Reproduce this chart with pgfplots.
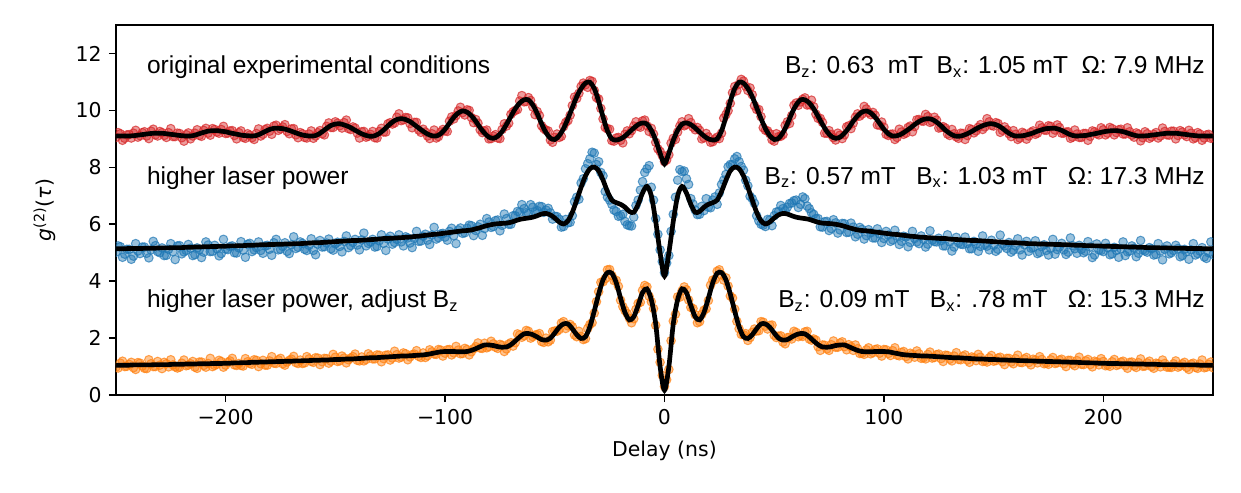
\documentclass[border=0pt]{standalone}
\usepackage{fontspec}
\setmainfont{Liberation Sans}
\newfontfamily\dejavu{DejaVu Sans}
\usepackage{pgfplots}
\usepackage{pgfplotstable}
\pgfplotsset{compat=1.18}
\definecolor{tabred}{HTML}{D62728}
\definecolor{tabblue}{HTML}{1F77B4}
\definecolor{taborange}{HTML}{FF7F0E}
\pgfplotstableread{
x rf rs bf bs of os
-250 9.1 9.05 5.14 5.02 1.05 0.98
-248 9.1 9.18 5.14 5.21 1.05 1.12
-246 9.1 9.02 5.14 4.95 1.05 1.0
-244 9.1 9.15 5.15 5.12 1.05 1.08
-242 9.11 9.2 5.15 4.88 1.06 0.96
-240 9.13 9.06 5.15 5.06 1.06 1.14
-238 9.15 9.22 5.15 5.2 1.06 1.02
-236 9.17 9.1 5.16 4.98 1.06 0.93
-234 9.19 9.27 5.16 5.1 1.06 1.1
-232 9.2 9.14 5.16 5.25 1.07 1.0
-230 9.2 9.26 5.17 5.0 1.07 1.05
-228 9.19 9.12 5.17 4.9 1.07 1.15
-226 9.17 9.22 5.17 5.12 1.07 0.99
-224 9.15 9.08 5.18 5.04 1.08 1.06
-222 9.13 9.2 5.18 5.24 1.08 0.95
-220 9.11 9.04 5.18 4.96 1.08 1.12
-218 9.1 9.15 5.19 5.08 1.09 1.03
-216 9.1 9.0 5.19 5.16 1.09 1.1
-214 9.13 9.2 5.2 4.93 1.09 0.98
-212 9.18 9.12 5.2 5.11 1.1 1.16
-210 9.23 9.3 5.21 5.02 1.1 1.04
-208 9.27 9.2 5.21 5.27 1.1 1.11
-206 9.29 9.36 5.22 5.05 1.11 1.0
-204 9.29 9.24 5.22 5.14 1.11 1.08
-202 9.27 9.33 5.23 4.97 1.11 1.18
-200 9.25 9.19 5.23 5.13 1.12 1.05
-198 9.21 9.28 5.24 5.22 1.12 1.2
-196 9.18 9.12 5.24 5.0 1.13 1.06
-194 9.15 9.22 5.25 5.17 1.13 1.11
-192 9.12 9.05 5.25 5.09 1.14 1.02
-190 9.11 9.18 5.26 5.3 1.14 1.17
-188 9.1 9.04 5.26 5.04 1.15 1.08
-186 9.12 9.19 5.27 5.18 1.15 1.22
-184 9.18 9.1 5.28 5.08 1.16 1.1
-182 9.26 9.33 5.28 5.24 1.16 1.05
-180 9.33 9.27 5.29 5.12 1.17 1.2
-178 9.37 9.45 5.29 5.35 1.17 1.12
-176 9.37 9.3 5.3 5.1 1.18 1.24
-174 9.36 9.42 5.3 5.22 1.18 1.1
-172 9.32 9.26 5.31 5.05 1.19 1.16
-170 9.27 9.35 5.31 5.28 1.19 1.26
-168 9.21 9.14 5.32 5.15 1.2 1.14
-166 9.16 9.22 5.32 5.38 1.2 1.23
-164 9.12 9.05 5.33 5.12 1.21 1.13
-162 9.1 9.17 5.34 5.26 1.21 1.27
-160 9.1 9.02 5.35 5.08 1.22 1.15
-158 9.15 9.22 5.35 5.3 1.22 1.3
-156 9.25 9.18 5.36 5.2 1.23 1.17
-154 9.37 9.44 5.37 5.34 1.23 1.28
-152 9.47 9.4 5.38 5.14 1.24 1.19
-150 9.52 9.6 5.39 5.31 1.25 1.33
-148 9.53 9.46 5.4 5.22 1.25 1.2
-146 9.49 9.57 5.41 5.4 1.26 1.3
-144 9.43 9.36 5.42 5.18 1.27 1.24
-142 9.35 9.42 5.43 5.36 1.27 1.35
-140 9.26 9.2 5.43 5.27 1.28 1.22
-138 9.18 9.25 5.44 5.45 1.29 1.34
-136 9.12 9.06 5.45 5.24 1.3 1.25
-134 9.09 9.16 5.46 5.38 1.31 1.38
-132 9.11 9.04 5.47 5.2 1.31 1.27
-130 9.19 9.26 5.48 5.42 1.32 1.4
-128 9.31 9.24 5.5 5.33 1.33 1.28
-126 9.46 9.53 5.5 5.48 1.34 1.41
-124 9.59 9.52 5.51 5.3 1.35 1.3
-122 9.68 9.76 5.52 5.47 1.36 1.42
-120 9.71 9.64 5.53 5.38 1.37 1.33
-118 9.68 9.75 5.54 5.56 1.37 1.45
-116 9.61 9.54 5.55 5.34 1.38 1.34
-114 9.5 9.58 5.57 5.5 1.39 1.44
-112 9.38 9.31 5.58 5.4 1.4 1.36
-110 9.27 9.34 5.6 5.58 1.41 1.48
-108 9.17 9.1 5.62 5.44 1.43 1.38
-106 9.11 9.18 5.64 5.62 1.46 1.52
-104 9.1 9.03 5.65 5.48 1.49 1.43
-102 9.18 9.24 5.67 5.66 1.52 1.58
-100 9.34 9.28 5.69 5.55 1.53 1.47
-98 9.55 9.62 5.71 5.75 1.53 1.6
-96 9.76 9.7 5.73 5.6 1.53 1.48
-94 9.91 9.98 5.75 5.8 1.52 1.58
-92 9.98 9.92 5.77 5.68 1.52 1.46
-90 9.94 10.02 5.78 5.86 1.53 1.6
-88 9.81 9.75 5.8 5.95 1.57 1.52
-86 9.62 9.68 5.84 5.78 1.63 1.7
-84 9.39 9.32 5.88 6.0 1.7 1.65
-82 9.2 9.27 5.93 5.85 1.76 1.82
-80 9.06 9.0 5.97 6.08 1.76 1.7
-78 9.02 9.1 6.0 5.92 1.74 1.8
-76 9.09 9.03 6.02 6.15 1.7 1.64
-74 9.26 9.33 6.03 5.96 1.68 1.75
-72 9.51 9.45 6.04 6.2 1.69 1.62
-70 9.79 9.86 6.07 6.0 1.77 1.84
-68 10.06 10.0 6.12 6.3 1.9 1.84
-66 10.26 10.33 6.17 6.42 2.04 2.11
-64 10.37 10.3 6.2 6.55 2.15 2.08
-62 10.37 10.45 6.22 6.38 2.16 2.24
-60 10.19 10.12 6.25 6.6 2.12 2.05
-58 9.89 9.96 6.3 6.48 2.04 2.12
-56 9.53 9.46 6.36 6.62 1.95 1.88
-54 9.22 9.3 6.38 6.5 1.93 2.0
-52 9.02 8.96 6.33 6.4 2.0 1.93
-50 8.98 9.05 6.22 6.28 2.18 2.25
-48 9.11 9.05 6.08 6.18 2.38 2.3
-46 9.36 9.43 6.01 5.92 2.5 2.58
-44 9.71 9.64 6.12 6.05 2.5 2.43
-42 10.1 10.17 6.42 6.3 2.33 2.4
-40 10.48 10.42 6.85 6.95 2.12 2.05
-38 10.77 10.84 7.3 7.45 1.99 2.06
-36 10.96 10.9 7.7 7.95 2.05 1.98
-34 10.99 11.05 7.95 8.3 2.4 2.48
-32 10.77 10.7 8.01 8.5 2.95 2.88
-30 10.32 10.4 7.88 8.2 3.55 3.63
-28 9.77 9.7 7.55 7.7 4.05 3.98
-26 9.28 9.35 7.15 6.95 4.3 4.4
-24 9.0 8.94 6.85 6.7 4.28 4.2
-22 8.96 9.03 6.76 6.45 3.95 4.03
-20 9.0 8.95 6.7 6.3 3.4 3.33
-18 9.1 9.16 6.6 6.1 2.9 2.97
-16 9.24 9.18 6.45 5.95 2.64 2.7
-14 9.38 9.45 6.42 6.25 2.75 2.68
-12 9.5 9.44 6.7 6.85 3.15 3.22
-10 9.56 9.63 7.1 7.5 3.6 3.68
-8 9.52 9.46 7.33 7.95 3.73 3.8
-6 9.3 9.37 7.0 7.3 3.35 3.28
-4 8.95 8.88 6.1 6.2 2.5 2.45
-2 8.5 8.56 5.0 5.1 1.0 1.15
0 8.12 8.2 4.18 4.3 0.17 0.3
2 8.5 8.44 5.0 4.9 1.0 0.9
4 8.95 9.02 6.1 6.35 2.5 2.6
6 9.3 9.24 7.0 7.55 3.35 3.45
8 9.52 9.6 7.33 7.85 3.73 3.66
10 9.56 9.5 7.1 7.6 3.6 3.7
12 9.5 9.57 6.7 6.9 3.15 3.08
14 9.38 9.32 6.42 6.5 2.75 2.82
16 9.24 9.3 6.45 6.35 2.64 2.58
18 9.1 9.04 6.6 6.48 2.9 2.98
20 9.0 9.07 6.7 6.6 3.4 3.32
22 8.96 8.9 6.76 6.85 3.95 4.04
24 9.0 9.06 6.85 6.7 4.28 4.35
26 9.28 9.2 7.15 7.4 4.3 4.22
28 9.77 9.85 7.55 7.75 4.05 4.12
30 10.32 10.25 7.88 8.1 3.55 3.48
32 10.77 10.84 8.01 8.3 2.95 3.02
34 10.99 10.92 7.95 8.2 2.4 2.33
36 10.96 11.03 7.7 7.9 2.05 2.12
38 10.77 10.7 7.3 7.35 1.99 1.92
40 10.48 10.55 6.85 6.9 2.12 2.2
42 10.1 10.03 6.42 6.3 2.33 2.25
44 9.71 9.78 6.12 6.0 2.5 2.58
46 9.36 9.3 6.01 5.92 2.5 2.42
48 9.11 9.18 6.08 6.15 2.38 2.45
50 8.98 8.92 6.22 6.3 2.18 2.1
52 9.02 9.08 6.33 6.45 2.0 2.07
54 9.22 9.15 6.38 6.55 1.93 1.86
56 9.53 9.6 6.36 6.6 1.95 2.02
58 9.89 9.82 6.3 6.75 2.04 1.97
60 10.19 10.26 6.25 6.85 2.12 2.2
62 10.37 10.3 6.22 6.7 2.16 2.09
64 10.37 10.44 6.2 6.9 2.15 2.22
66 10.26 10.2 6.17 6.55 2.04 1.97
68 10.06 10.13 6.12 6.35 1.9 1.97
70 9.79 9.72 6.07 6.2 1.77 1.7
72 9.51 9.58 6.04 5.9 1.69 1.76
74 9.26 9.2 6.03 6.1 1.68 1.62
76 9.09 9.15 6.02 5.85 1.7 1.77
78 9.02 8.96 6.0 6.05 1.74 1.68
80 9.06 9.13 5.97 5.8 1.76 1.83
82 9.2 9.14 5.93 6.02 1.76 1.7
84 9.39 9.46 5.88 5.72 1.7 1.77
86 9.62 9.55 5.84 5.9 1.63 1.57
88 9.81 9.88 5.8 5.65 1.57 1.63
90 9.94 9.87 5.78 5.82 1.53 1.47
92 9.98 10.05 5.77 5.6 1.52 1.59
94 9.91 9.85 5.75 5.7 1.52 1.45
96 9.76 9.83 5.73 5.52 1.53 1.6
98 9.55 9.48 5.71 5.66 1.53 1.47
100 9.34 9.41 5.69 5.5 1.53 1.6
102 9.18 9.12 5.67 5.62 1.52 1.46
104 9.1 9.17 5.65 5.45 1.49 1.56
106 9.11 9.05 5.64 5.58 1.46 1.4
108 9.17 9.24 5.62 5.4 1.43 1.5
110 9.27 9.2 5.6 5.55 1.41 1.35
112 9.38 9.45 5.58 5.36 1.4 1.47
114 9.5 9.43 5.57 5.5 1.39 1.33
116 9.61 9.68 5.55 5.32 1.38 1.45
118 9.68 9.62 5.54 5.47 1.37 1.31
120 9.71 9.78 5.53 5.3 1.37 1.43
122 9.68 9.61 5.52 5.44 1.36 1.3
124 9.59 9.66 5.51 5.38 1.35 1.42
126 9.46 9.4 5.5 5.42 1.34 1.28
128 9.31 9.38 5.5 5.24 1.33 1.4
130 9.19 9.12 5.48 5.38 1.32 1.26
132 9.11 9.18 5.47 5.2 1.31 1.37
134 9.09 9.02 5.46 5.35 1.31 1.25
136 9.12 9.19 5.45 5.29 1.3 1.36
138 9.18 9.12 5.44 5.32 1.29 1.23
140 9.26 9.33 5.43 5.14 1.28 1.34
142 9.35 9.28 5.43 5.3 1.27 1.21
144 9.43 9.5 5.42 5.22 1.27 1.33
146 9.49 9.42 5.41 5.28 1.26 1.2
148 9.53 9.6 5.4 5.1 1.25 1.31
150 9.52 9.45 5.39 5.26 1.25 1.19
152 9.47 9.54 5.38 5.12 1.24 1.3
154 9.37 9.3 5.37 5.3 1.23 1.17
156 9.25 9.32 5.36 5.15 1.23 1.29
158 9.15 9.08 5.35 5.02 1.22 1.16
160 9.1 9.16 5.35 5.24 1.22 1.28
162 9.1 9.03 5.34 5.1 1.21 1.15
164 9.12 9.19 5.33 5.28 1.21 1.27
166 9.16 9.1 5.32 5.05 1.2 1.14
168 9.21 9.28 5.32 5.18 1.2 1.26
170 9.27 9.2 5.31 4.97 1.19 1.13
172 9.32 9.39 5.31 5.22 1.19 1.25
174 9.36 9.3 5.3 5.08 1.18 1.12
176 9.37 9.44 5.3 5.15 1.18 1.24
178 9.37 9.31 5.29 4.95 1.17 1.11
180 9.33 9.4 5.29 5.2 1.17 1.23
182 9.26 9.2 5.28 5.1 1.16 1.1
184 9.18 9.25 5.28 5.02 1.16 1.22
186 9.12 9.06 5.27 5.25 1.15 1.09
188 9.1 9.17 5.26 4.98 1.15 1.21
190 9.11 9.05 5.26 5.12 1.14 1.08
192 9.12 9.19 5.25 5.05 1.14 1.2
194 9.15 9.09 5.25 5.2 1.13 1.07
196 9.18 9.25 5.24 4.92 1.13 1.19
198 9.21 9.14 5.24 5.1 1.12 1.06
200 9.25 9.32 5.23 5.04 1.12 1.18
202 9.27 9.2 5.23 5.18 1.11 1.05
204 9.29 9.36 5.22 4.96 1.11 1.17
206 9.29 9.22 5.22 5.08 1.11 1.04
208 9.27 9.34 5.21 5.14 1.1 1.16
210 9.23 9.17 5.21 4.9 1.1 1.03
212 9.18 9.25 5.2 5.06 1.1 1.15
214 9.13 9.06 5.2 5.16 1.09 1.02
216 9.1 9.17 5.19 4.98 1.09 1.14
218 9.1 9.04 5.19 5.1 1.09 1.01
220 9.11 9.18 5.18 5.02 1.08 1.13
222 9.13 9.07 5.18 5.14 1.08 1.0
224 9.15 9.22 5.18 4.94 1.08 1.12
226 9.17 9.1 5.17 5.06 1.07 0.99
228 9.19 9.26 5.17 5.12 1.07 1.11
230 9.2 9.13 5.17 4.96 1.07 0.98
232 9.2 9.27 5.16 5.08 1.07 1.1
234 9.19 9.12 5.16 5.15 1.06 0.98
236 9.17 9.24 5.16 4.9 1.06 1.1
238 9.15 9.08 5.15 5.04 1.06 0.97
240 9.13 9.2 5.15 5.1 1.06 1.09
242 9.11 9.04 5.15 4.92 1.06 0.97
244 9.1 9.17 5.15 5.06 1.05 1.09
246 9.1 9.03 5.14 4.85 1.05 0.96
248 9.1 9.16 5.14 5.0 1.05 1.08
250 9.1 9.04 5.14 4.94 1.05 0.96
}\data
\pgfplotstableread{
x rs bs os
-249 9.22 5.24 0.95
-247 8.95 4.84 1.19
-245 9.14 5.12 1.01
-243 9.03 4.77 1.15
-241 9.3 5.32 0.9
-239 9.11 4.97 1.12
-237 9.25 5.2 0.94
-235 9.01 4.82 1.24
-233 9.34 5.4 1.0
-231 9.1 5.04 1.18
-229 9.22 5.17 0.93
-227 9.05 4.91 1.1
-225 9.36 5.32 1.24
-223 9.08 4.76 0.99
-221 9.19 5.25 0.98
-219 8.92 5.03 1.23
-217 9.21 5.29 1.05
-215 9.1 4.9 1.18
-213 9.32 5.17 0.94
-211 9.09 4.83 1.16
-209 9.37 5.38 0.98
-207 9.13 5.04 1.29
-205 9.33 5.26 1.04
-203 9.2 4.89 1.22
-201 9.44 5.47 0.98
-199 9.2 5.11 1.15
-197 9.29 5.24 1.29
-195 9.0 4.99 1.04
-193 9.28 5.39 1.04
-191 9.02 4.84 1.28
-189 9.13 5.33 1.11
-187 8.98 5.1 1.24
-185 9.35 5.38 1.0
-183 9.16 4.98 1.22
-181 9.37 5.26 1.05
-179 9.16 4.91 1.35
-177 9.48 5.47 1.11
-175 9.35 5.12 1.29
-173 9.5 5.35 1.05
-171 9.18 4.97 1.22
-169 9.36 5.56 1.36
-167 9.04 5.19 1.11
-165 9.18 5.33 1.11
-163 9.03 5.08 1.35
-161 9.28 5.49 1.18
-159 9.1 4.93 1.31
-157 9.29 5.43 1.07
-155 9.14 5.21 1.29
-153 9.56 5.48 1.12
-151 9.4 5.09 1.43
-149 9.55 5.37 1.18
-147 9.38 5.03 1.37
-145 9.66 5.59 1.13
-143 9.33 5.25 1.3
-141 9.38 5.47 1.44
-139 9.03 5.1 1.2
-137 9.26 5.69 1.2
-135 9.09 5.33 1.45
-133 9.26 5.47 1.27
-131 9.03 5.22 1.41
-129 9.37 5.63 1.17
-127 9.24 5.08 1.4
-125 9.57 5.58 1.23
-123 9.56 5.36 1.54
-121 9.88 5.63 1.3
-119 9.67 5.24 1.48
-117 9.74 5.52 1.24
-115 9.39 5.18 1.42
-113 9.58 5.75 1.56
-111 9.23 5.41 1.32
-109 9.24 5.65 1.32
-107 9.01 5.29 1.59
-105 9.31 5.89 1.44
-103 9.08 5.53 1.6
-101 9.33 5.68 1.37
-99 9.26 5.44 1.59
-97 9.77 5.86 1.41
-95 9.82 5.32 1.71
-93 10.11 5.87 1.45
-91 9.84 5.7 1.64
-89 10.0 5.97 1.41
-87 9.57 5.6 1.63
-85 9.55 5.91 1.83
-83 9.22 5.61 1.64
-81 9.31 6.2 1.66
-79 9.01 5.89 1.89
-77 9.15 6.13 1.68
-75 9.01 5.77 1.78
-73 9.53 6.36 1.53
-71 9.55 6.0 1.79
-69 9.95 6.3 1.72
-67 10.03 6.45 2.15
-65 10.52 6.69 2.03
-63 10.31 6.41 2.27
-61 10.35 6.69 2.0
-59 9.85 6.43 2.11
-57 9.82 6.63 2.16
-55 9.36 6.42 1.85
-53 9.28 6.56 1.87
-51 8.88 6.18 2.23
-49 9.17 6.27 2.24
-47 9.09 5.9 2.53
-45 9.58 6.17 2.34
-43 9.83 6.07 2.48
-41 10.47 6.79 2.11
-39 10.6 6.88 2.24
-37 10.96 7.6 1.95
-35 10.81 8.13 2.34
-33 11.02 8.53 2.54
-31 10.45 8.1 3.28
-29 10.07 7.82 3.96
-27 9.4 7.15 4.09
-25 9.34 6.85 4.41
-23 8.92 6.5 4.02
-21 9.05 6.28 3.82
-19 8.86 6.35 3.11
-17 9.28 5.98 2.86
-15 9.29 5.94 2.54
-13 9.6 6.66 3.01
-11 9.41 7.2 3.26
-9 9.66 7.82 3.85
-7 9.26 8.06 3.47
-5 9.17 6.85 3.04
-3 8.65 5.65 1.61
-1 8.41 4.69 0.69
1 8.26 4.64 0.54
3 8.85 5.75 1.91
5 8.98 6.95 2.84
7 9.45 7.92 3.44
9 9.46 7.87 3.8
11 9.71 7.4 3.34
13 9.41 6.71 3.04
15 9.4 6.34 2.54
17 9.0 6.63 2.83
19 9.19 6.9 3.03
21 8.88 6.58 3.86
23 9.0 6.96 4.05
25 9.01 7.1 4.4
27 9.73 7.55 4.04
29 9.99 8.02 3.83
31 10.62 8.1 3.41
33 10.69 8.38 2.59
35 11.09 8.03 2.13
37 10.85 7.55 2.16
39 10.79 6.98 2.02
41 10.17 6.74 2.32
43 10.03 6.12 2.26
45 9.39 5.97 2.56
47 9.28 6.17 2.32
49 8.97 5.95 2.46
51 9.18 6.43 2.02
53 9.09 6.66 2.08
55 9.47 6.47 1.8
57 9.54 6.73 2.03
59 10.18 6.83 2.24
61 10.18 6.59 2.05
63 10.39 6.96 2.06
65 10.19 6.64 2.24
67 10.36 6.4 1.93
69 9.87 6.2 1.93
71 9.72 5.91 1.57
73 9.2 6.09 1.75
75 9.29 5.78 1.57
77 9.04 6.16 1.9
79 9.2 5.69 1.68
81 9.01 6.03 1.87
83 9.42 5.71 1.59
85 9.36 6.04 1.7
87 9.76 5.56 1.76
89 9.8 5.89 1.46
91 10.14 5.48 1.43
93 9.92 5.81 1.66
95 9.93 5.52 1.49
97 9.49 5.84 1.62
99 9.59 5.36 1.37
101 9.16 5.75 1.59
103 9.16 5.4 1.39
105 8.98 5.79 1.66
107 9.34 5.29 1.38
109 9.16 5.58 1.53
111 9.4 5.21 1.27
113 9.25 5.75 1.43
115 9.67 5.38 1.55
117 9.63 5.59 1.29
119 9.86 5.2 1.27
121 9.58 5.77 1.51
123 9.76 5.39 1.32
125 9.38 5.51 1.44
127 9.43 5.24 1.18
129 9.17 5.63 1.39
131 9.33 5.06 1.2
133 9.07 5.54 1.49
135 9.2 5.3 1.24
137 8.98 5.55 1.41
139 9.36 5.14 1.15
141 9.21 5.4 1.31
143 9.41 5.05 1.43
145 9.33 5.59 1.18
147 9.71 5.23 1.16
149 9.47 5.44 1.39
151 9.57 5.05 1.21
153 9.23 5.62 1.33
155 9.42 5.24 1.07
157 9.18 5.36 1.29
159 9.29 5.09 1.1
161 8.98 5.49 1.4
163 9.23 4.92 1.14
165 8.99 5.4 1.32
167 9.23 5.16 1.06
169 9.16 5.42 1.23
171 9.48 5.01 1.35
173 9.31 5.28 1.1
175 9.46 4.92 1.08
177 9.2 5.47 1.32
179 9.49 5.11 1.13
181 9.2 5.33 1.26
183 9.24 4.94 1.0
185 9.02 5.52 1.22
187 9.31 5.14 1.03
189 9.05 5.26 1.33
191 9.19 5.0 1.07
193 8.95 5.39 1.25
195 9.28 4.83 0.99
197 9.18 5.31 1.16
199 9.39 5.08 1.28
201 9.14 5.33 1.03
203 9.4 4.93 1.01
205 9.14 5.19 1.25
207 9.32 4.84 1.07
209 9.17 5.38 1.19
211 9.39 5.03 0.94
213 9.13 5.24 1.16
215 9.21 4.86 0.97
217 8.93 5.43 1.27
219 9.25 5.06 1.02
221 9.02 5.18 1.19
223 9.16 4.92 0.94
225 9.03 5.32 1.1
227 9.38 4.75 1.23
229 9.14 5.24 0.98
231 9.27 5.0 0.97
233 9.0 5.26 1.2
235 9.29 4.86 1.02
237 9.14 5.12 1.15
239 9.3 4.77 0.9
241 9.0 5.32 1.12
243 9.22 4.97 0.94
245 8.95 5.18 1.23
247 9.14 4.8 0.98
249 9.02 5.38 1.16
}\datb
\begin{document}
\begin{tikzpicture}
\path[use as bounding box] (-56.8pt,-47.5pt) rectangle (551.2pt,193.55pt);
\begin{axis}[
  at={(0,0)}, anchor=south west,
  scale only axis, width=537.5pt, height=181.3pt,
  xmin=-250, xmax=250, ymin=0, ymax=13,
  clip marker paths=true,
  axis line style={line width=0.8pt},
  tick style={line width=0.8pt, black},
  tick align=outside, tick pos=left, major tick length=3.5pt,
  xtick={-200,-100,0,100,200},
  xticklabels={−200,−100,0,100,200},
  ytick={0,2,4,6,8,10,12},
  yticklabels={0,2,4,6,8,10,12},
  xticklabel style={font=\dejavu\fontsize{10}{12}\selectfont},
  yticklabel style={font=\dejavu\fontsize{10}{12}\selectfont},
  xlabel={Delay (ns)},
  ylabel={\textit{g}\textsuperscript{(2)}(\textit{τ})},
  every axis x label/.style={at={(axis description cs:0.5,0)}, anchor=center, yshift=-27.4pt, font=\dejavu\fontsize{10}{12}\selectfont},
  every axis y label/.style={at={(axis description cs:0,0.5)}, rotate=90, anchor=center, yshift=34.8pt, font=\dejavu\fontsize{10}{12}\selectfont},
  scatr/.style={only marks, mark=*, mark size=2.1pt, mark options={draw=#1, fill=#1, fill opacity=0.45, draw opacity=0.7, line width=0.5pt}},
]
\addplot[scatr=tabred] table[x=x, y=rs] {\data};
\addplot[scatr=tabred] table[x=x, y=rs] {\datb};
\addplot[black, line width=2.3pt, smooth] table[x=x, y=rf] {\data};
\addplot[scatr=tabblue] table[x=x, y=bs] {\data};
\addplot[scatr=tabblue] table[x=x, y=bs] {\datb};
\addplot[black, line width=2.3pt, smooth] table[x=x, y=bf] {\data};
\addplot[scatr=taborange] table[x=x, y=os] {\data};
\addplot[scatr=taborange] table[x=x, y=os] {\datb};
\addplot[black, line width=2.3pt, smooth] table[x=x, y=of] {\data};
\node[anchor=base west, font=\fontsize{12}{14}\selectfont, inner sep=0pt] at (axis cs:-236,11.28) {original experimental conditions};
\node[anchor=base west, font=\fontsize{12}{14}\selectfont, inner sep=0pt] at (axis cs:-236,7.41) {higher laser power};
\node[anchor=base west, font=\fontsize{12}{14}\selectfont, inner sep=0pt] at (axis cs:-236,3.08) {higher laser power, adjust B\textsubscript{z}};
\node[anchor=base east, font=\fontsize{12}{14}\selectfont, inner sep=0pt] at (axis cs:246.4,11.28) {B\textsubscript{z}: 0.63\ \ mT\ \ B\textsubscript{x}: 1.05 mT\ \ Ω: 7.9 MHz};
\node[anchor=base east, font=\fontsize{12}{14}\selectfont, inner sep=0pt] at (axis cs:246.4,7.41) {B\textsubscript{z}: 0.57 mT\ \ \ B\textsubscript{x}: 1.03 mT\ \ \ Ω: 17.3 MHz};
\node[anchor=base east, font=\fontsize{12}{14}\selectfont, inner sep=0pt] at (axis cs:246.4,3.08) {B\textsubscript{z}: 0.09 mT\ \ \ B\textsubscript{x}: .78 mT\ \ \ Ω: 15.3 MHz};
\end{axis}
\end{tikzpicture}
\end{document}
